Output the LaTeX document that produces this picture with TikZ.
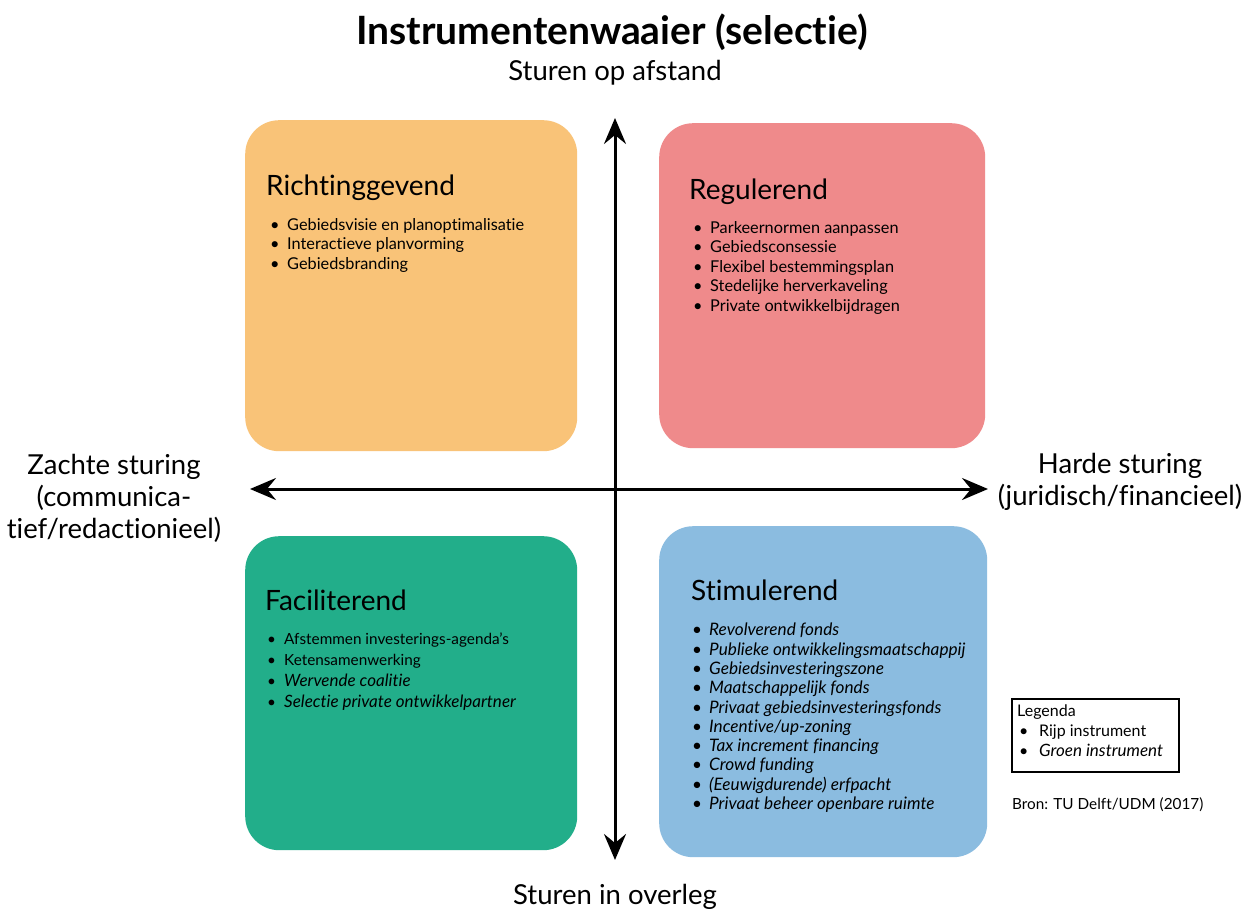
\documentclass[tikz,border=0pt]{standalone}
\usepackage{fontspec}
\setmainfont{Lato}[Ligatures={TeX,NoCommon,NoRare,NoDiscretionary},Contextuals=NoAlternate]
\usetikzlibrary{arrows.meta,positioning}

\definecolor{richtcol}{HTML}{F9C378}
\definecolor{regulcol}{HTML}{EF8A8B}
\definecolor{facilcol}{HTML}{22AE8A}
\definecolor{stimucol}{HTML}{8BBCE0}

\newcommand{\bul}{\makebox[18pt][l]{\hspace{1pt}\textbullet}}
\newcommand{\groen}[1]{{\fontsize{17}{21}\selectfont\itshape #1}}
\newcommand{\tiq}{t\kern0pt i}

\tikzset{
  quad/.style={rounded corners=34pt, minimum width=332pt, minimum height=331pt, anchor=north west, inner sep=0pt},
  kop/.style={anchor=base west, inner sep=0pt, font=\fontsize{28}{32}\selectfont},
  lijst/.style={anchor=north west, inner sep=0pt, align=left, font=\fontsize{16.3}{19.5}\selectfont},
  aslabel/.style={inner sep=0pt, align=center, font=\fontsize{27.5}{32}\selectfont},
  as/.style={line width=3pt, {Stealth[length=26pt,width=22pt,inset=9pt]}-{Stealth[length=26pt,width=22pt,inset=9pt]}}
}

\begin{document}
\begin{tikzpicture}[x=1pt,y=-1pt]
  \useasboundingbox[fill=white] (0,0) rectangle (1243,910);

  %%%%% kwadranten %%%%%
  \node[quad, fill=richtcol] (richt) at (245,120) {};
  \node[quad, fill=regulcol, minimum width=326pt, minimum height=325pt] (regul) at (659,123) {};
  \node[quad, fill=facilcol, minimum height=314pt] (facil) at (245,536) {};
  \node[quad, fill=stimucol, minimum width=328pt] (stimu) at (659,526) {};

  %%%%% assen %%%%%
  \coordinate (boven) at (615,118);
  \coordinate (onder) at (615,860);
  \coordinate (links) at (250,489);
  \coordinate (rechts) at (988,489);
  \draw[as] (onder) -- (boven);
  \draw[as] (links) -- (rechts);

  %%%%% titels %%%%%
  \node[inner sep=0pt, font=\fontsize{39}{44}\selectfont\bfseries] (titel) at (612,32) {Instrumentenwaaier (selec\tiq e)};
  \node[aslabel] (afstand) at (615,73) {Sturen op afstand};
  \node[aslabel] (overleg) at (615,897) {Sturen in overleg};
  \node[aslabel] (zacht) at (114,498) {Zachte sturing\\(communica-\\\tiq ef/redac\tiq onieel)};
  \node[aslabel] (hard) at (1120,482) {Harde sturing\\(juridisch/financieel)};

  %%%%% Richtinggevend %%%%%
  \node[kop] (richtkop) at (266,195) {Richtinggevend};
  \node[lijst] (richtlijst) at (269,218) {\bul Gebiedsvisie en planop\tiq malisa\tiq e\\
    \bul Interac\tiq eve planvorming\\
    \bul Gebiedsbranding};

  %%%%% Regulerend %%%%%
  \node[kop] (regulkop) at (689,199) {Regulerend};
  \node[lijst] (regullijst) at (692,221) {\bul Parkeernormen aanpassen\\
    \bul Gebiedsconsessie\\
    \bul Flexibel bestemmingsplan\\
    \bul Stedelijke herverkaveling\\
    \bul Private ontwikkelbijdragen};

  %%%%% Faciliterend %%%%%
  \node[kop] (facilkop) at (265,610) {Faciliterend};
  \node[lijst, font=\fontsize{15.3}{21}\selectfont] (faciljst) at (266,633) {\bul Afstemmen investerings-agenda's\\
    \bul Ketensamenwerking\\
    \bul \groen{Wervende coali\tiq e}\\
    \bul \groen{Selec\tiq e private ontwikkelpartner}};

  %%%%% Stimulerend %%%%%
  \node[kop] (stimukop) at (691,600) {Stimulerend};
  \node[lijst, font=\fontsize{17.2}{19.3}\selectfont\itshape] (stimulijst) at (691,623) {\bul Revolverend fonds\\
    \bul Publieke ontwikkelingsmaatschappij\\
    \bul Gebiedsinvesteringszone\\
    \bul Maatschappelijk fonds\\
    \bul Privaat gebiedsinvesteringsfonds\\
    \bul Incen\tiq ve/up-zoning\\
    \bul Tax increment financing\\
    \bul Crowd funding\\
    \bul (Eeuwigdurende) erfpacht\\
    \bul Privaat beheer openbare ruimte};

  %%%%% legenda %%%%%
  \node[draw, line width=1.8pt, anchor=north west, minimum width=167pt, minimum height=73pt] (legbox) at (1011,698) {};
  \node[lijst, font=\fontsize{16}{20}\selectfont] (legtekst) at (1017,705) {Legenda\\
    \makebox[22pt][l]{\hspace{2pt}\textbullet}Rijp instrument\\
    \makebox[22pt][l]{\hspace{2pt}\textbullet}\groen{Groen instrument}};
  \node[anchor=west, inner sep=0pt, font=\fontsize{15.3}{18}\selectfont] (bron) at (1012,805) {Bron: TU Delft/UDM (2017)};
\end{tikzpicture}
\end{document}
